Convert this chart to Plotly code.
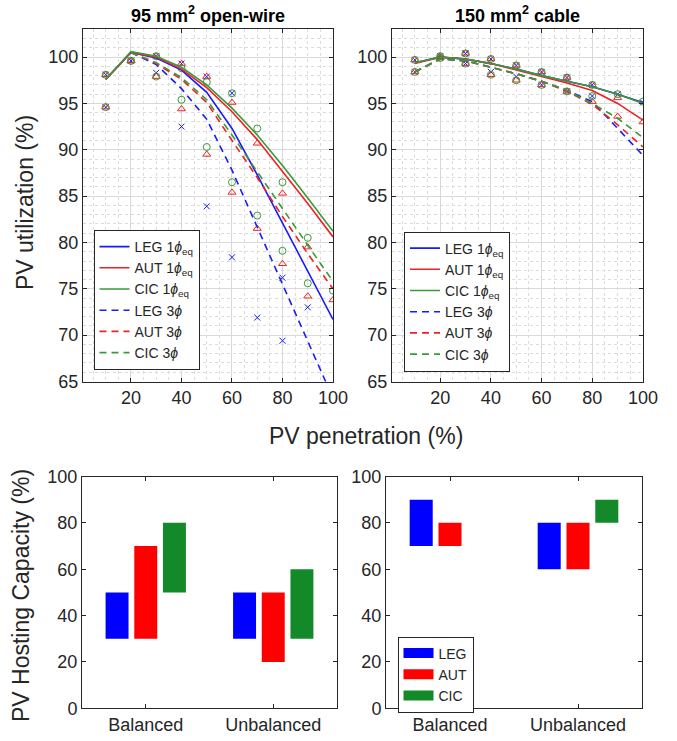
import plotly.graph_objects as go

# ---------------- data ----------------
pen = [10, 20, 30, 40, 50, 60, 70, 80, 90, 100]

# 95 mm2 open-wire : fitted curves (PV utilization %)
ow_leg_1 = [97.6, 100.5, 99.9, 98.6, 96.2, 92.3, 87.3, 82.1, 76.8, 71.7]
ow_aut_1 = [97.6, 100.5, 100.0, 98.7, 96.7, 94.1, 91.1, 87.7, 84.2, 80.6]
ow_cic_1 = [97.6, 100.6, 100.1, 98.9, 97.0, 94.5, 91.6, 88.3, 84.8, 81.2]
ow_leg_3 = [None, 100.5, 99.2, 96.6, 93.3, 87.8, 81.7, 75.6, 69.4, 63.2]
ow_aut_3 = [None, 100.5, 99.3, 97.6, 95.1, 91.0, 87.0, 82.8, 78.8, 75.0]
ow_cic_3 = [None, 100.5, 99.4, 97.8, 95.4, 91.6, 87.6, 83.6, 79.7, 75.8]
# 95 mm2 open-wire : simulated points
ow_leg_m1 = [98.1, 99.6, 100.1, 99.3, 97.9, 96.1, None, 76.2, 73.0, None]
ow_aut_m1 = [98.1, 99.6, 100.1, 99.3, 97.9, 95.1, 90.7, 85.3, 79.5, 73.8]
ow_cic_m1 = [98.1, 99.6, 100.1, 98.8, 97.3, 96.1, 92.3, 86.5, 80.5, 74.8]
ow_leg_m3 = [94.6, 99.6, 98.3, 92.5, 83.9, 78.4, 71.9, 69.4, None, None]
ow_aut_m3 = [94.6, 99.6, 97.9, 94.4, 89.5, 85.4, 81.5, 77.7, 74.2, None]
ow_cic_m3 = [94.6, 99.6, 97.9, 95.4, 90.3, 86.5, 82.9, 79.1, 75.6, None]

# 150 mm2 cable : fitted curves
cb_leg_1 = [99.4, 100.0, 99.8, 99.3, 98.7, 98.0, 97.4, 96.8, 96.0, 95.1]
cb_aut_1 = [99.3, 100.0, 99.8, 99.3, 98.6, 97.9, 97.2, 96.4, 95.0, 93.2]
cb_cic_1 = [99.4, 100.0, 99.8, 99.3, 98.7, 98.0, 97.4, 96.8, 96.0, 95.0]
cb_leg_3 = [98.4, 99.8, 99.6, 98.9, 98.2, 97.4, 96.4, 95.2, 92.3, 89.4]
cb_aut_3 = [98.4, 99.8, 99.6, 98.9, 98.2, 97.4, 96.3, 94.9, 92.7, 90.3]
cb_cic_3 = [98.4, 99.8, 99.6, 98.9, 98.2, 97.4, 96.4, 95.0, 93.4, 91.3]
# 150 mm2 cable : simulated points
cb_leg_m1 = [99.7, 100.1, 100.4, 99.8, 99.1, 98.4, 97.8, 97.0, 96.0, 95.1]
cb_aut_m1 = [99.7, 100.1, 100.4, 99.8, 99.1, 98.4, 97.8, 97.0, 95.6, 93.0]
cb_cic_m1 = [99.7, 100.1, 100.4, 99.8, 99.1, 98.4, 97.8, 97.0, 96.0, 95.2]
cb_leg_m3 = [98.4, 99.9, 99.3, 98.4, 97.9, 97.0, 96.3, 95.8, None, None]
cb_aut_m3 = [98.4, 99.9, 99.3, 98.1, 97.5, 97.0, 96.3, 95.2, 93.6, None]
cb_cic_m3 = [98.4, 99.9, 99.3, 98.1, 97.5, 97.0, 96.3, 95.8, None, None]

# PV hosting capacity ranges (%)
hc_cats = ["Balanced", "Unbalanced"]
ow_leg_hc_lo = [30, 30]; ow_leg_hc_hi = [50, 50]
ow_aut_hc_lo = [30, 20]; ow_aut_hc_hi = [70, 50]
ow_cic_hc_lo = [50, 30]; ow_cic_hc_hi = [80, 60]
cb_leg_hc_lo = [70, 60]; cb_leg_hc_hi = [90, 80]
cb_aut_hc_lo = [70, 60]; cb_aut_hc_hi = [80, 80]
cb_cic_hc_lo = [None, 80]; cb_cic_hc_hi = [None, 90]

x_ticks = [20, 40, 60, 80, 100]
y_ticks = [65, 70, 75, 80, 85, 90, 95, 100]
hc_ticks = [0, 20, 40, 60, 80, 100]

# ---------------- style ----------------
FONT = "Liberation Sans, Arial, sans-serif"
AX = "#262626"
BLUE, RED, GREEN = "#1a1aff", "#ee2222", "#3a9a3a"
BAR_B, BAR_R, BAR_G = "#0000ff", "#ff0000", "#13892a"
W, H = 677, 741

def fx(px):
    return px / W

def fy(py):
    return 1 - py / H

fig = go.Figure()

names = ["LEG", "AUT", "CIC"]
cols = [BLUE, RED, GREEN]
syms = ["x-thin-open", "triangle-up-open", "circle-open"]
msz = [6, 7, 7]
PHI = "<i>ϕ</i>"


def add_panel(xa, ya, lines1, lines3, m1, m3, legend):
    for i in range(3):
        for m in (m1[i], m3[i]):
            fig.add_trace(go.Scatter(
                x=pen, y=m, mode="markers", xaxis=xa, yaxis=ya,
                marker=dict(symbol=syms[i], size=msz[i], color=cols[i],
                            line=dict(color=cols[i], width=1)),
                showlegend=False, hoverinfo="skip"))
    for i in range(3):
        fig.add_trace(go.Scatter(
            x=pen, y=lines1[i], mode="lines", xaxis=xa, yaxis=ya,
            line=dict(color=cols[i], width=1.6),
            name=f"{names[i]} 1{PHI}<sub>eq</sub>", legend=legend))
    for i in range(3):
        fig.add_trace(go.Scatter(
            x=pen, y=lines3[i], mode="lines", xaxis=xa, yaxis=ya,
            line=dict(color=cols[i], width=1.6, dash="7px,5px"),
            name=f"{names[i]} 3{PHI}", legend=legend))


add_panel("x", "y", [ow_leg_1, ow_aut_1, ow_cic_1], [ow_leg_3, ow_aut_3, ow_cic_3],
          [ow_leg_m1, ow_aut_m1, ow_cic_m1], [ow_leg_m3, ow_aut_m3, ow_cic_m3], "legend")
add_panel("x2", "y2", [cb_leg_1, cb_aut_1, cb_cic_1], [cb_leg_3, cb_aut_3, cb_cic_3],
          [cb_leg_m1, cb_aut_m1, cb_cic_m1], [cb_leg_m3, cb_aut_m3, cb_cic_m3], "legend2")

# floating bars
bar_w = 0.18
offs = [-0.225, 0.0, 0.225]
bcols = [BAR_B, BAR_R, BAR_G]
ow_lo = [ow_leg_hc_lo, ow_aut_hc_lo, ow_cic_hc_lo]
ow_hi = [ow_leg_hc_hi, ow_aut_hc_hi, ow_cic_hc_hi]
cb_lo = [cb_leg_hc_lo, cb_aut_hc_lo, cb_cic_hc_lo]
cb_hi = [cb_leg_hc_hi, cb_aut_hc_hi, cb_cic_hc_hi]
for xa, ya, los, his in (("x3", "y3", ow_lo, ow_hi), ("x4", "y4", cb_lo, cb_hi)):
    for i in range(3):
        lo, hi = los[i], his[i]
        hgt = [None if (a is None or b is None) else b - a for a, b in zip(lo, hi)]
        fig.add_trace(go.Bar(
            x=[1, 2], y=hgt, base=lo, xaxis=xa, yaxis=ya,
            width=bar_w, offset=offs[i] - bar_w / 2,
            marker=dict(color=bcols[i], line=dict(width=0)),
            showlegend=False, hoverinfo="skip"))
for i in range(3):
    fig.add_trace(go.Scatter(
        x=[None], y=[None], mode="lines", xaxis="x4", yaxis="y4",
        line=dict(color=bcols[i], width=15), name=names[i], legend="legend3"))

# ---------------- axes ----------------
tick_font = dict(family=FONT, size=18, color=AX)
common = dict(showline=True, linecolor=AX, linewidth=1, mirror="ticks",
              ticks="inside", ticklen=4, tickcolor=AX, tickfont=tick_font,
              zeroline=False, automargin=False)

top_x = dict(common, range=[1, 100], tickvals=x_ticks, showgrid=True,
             gridcolor="#d9d9d9", gridwidth=1,
             minor=dict(dtick=5, tick0=0, showgrid=True, gridcolor="#dcdcdc",
                        griddash="dot", ticks=""))
top_y = dict(common, range=[65, 103], tickvals=y_ticks, showgrid=True,
             gridcolor="#d9d9d9", gridwidth=1,
             minor=dict(dtick=1, tick0=0, showgrid=True, gridcolor="#dcdcdc",
                        griddash="dot", ticks=""))
bot_x = dict(common, range=[0.5, 2.5], tickvals=[1, 2], ticktext=hc_cats,
             showgrid=False)
bot_y = dict(common, range=[0, 100], tickvals=hc_ticks, showgrid=False)

TL = (83, 333); TR = (392, 643); TY = (29.3, 381.5)
BL = (82, 337); BR = (386, 642); BY = (476.5, 708.3)

fig.update_layout(
    width=W, height=H, margin=dict(l=0, r=0, t=0, b=0, autoexpand=False),
    paper_bgcolor="white", plot_bgcolor="white",
    font=dict(family=FONT, color=AX),
    barmode="overlay",
    xaxis=dict(top_x, domain=[fx(TL[0]), fx(TL[1])], anchor="y"),
    yaxis=dict(top_y, domain=[fy(TY[1]), fy(TY[0])], anchor="x"),
    xaxis2=dict(top_x, domain=[fx(TR[0]), fx(TR[1])], anchor="y2"),
    yaxis2=dict(top_y, domain=[fy(TY[1]), fy(TY[0])], anchor="x2"),
    xaxis3=dict(bot_x, domain=[fx(BL[0]), fx(BL[1])], anchor="y3"),
    yaxis3=dict(bot_y, domain=[fy(BY[1]), fy(BY[0])], anchor="x3"),
    xaxis4=dict(bot_x, domain=[fx(BR[0]), fx(BR[1])], anchor="y4"),
    yaxis4=dict(bot_y, domain=[fy(BY[1]), fy(BY[0])], anchor="x4"),
    showlegend=True,
)

leg_common = dict(bgcolor="white", bordercolor="#262626", borderwidth=1,
                  font=dict(family=FONT, size=14, color=AX),
                  xanchor="left", yanchor="top", tracegroupgap=0,
                  itemclick=False, itemdoubleclick=False)
fig.update_layout(
    legend=dict(leg_common, x=fx(93.5), y=fy(230)),
    legend2=dict(leg_common, x=fx(404), y=fy(231.5)),
    legend3=dict(leg_common, x=fx(397.5), y=fy(636.5),
                 font=dict(family=FONT, size=14, color=AX)),
)

ann_base = dict(xref="paper", yref="paper", showarrow=False,
                xanchor="center", yanchor="middle")
ann = [
    dict(ann_base, text="<b>95 mm<sup>2</sup> open-wire</b>", x=fx((TL[0] + TL[1]) / 2), y=fy(15),
         font=dict(size=18, color="black")),
    dict(ann_base, text="<b>150 mm<sup>2</sup> cable</b>", x=fx((TR[0] + TR[1]) / 2), y=fy(15),
         font=dict(size=18, color="black")),
    dict(ann_base, text="PV penetration (%)", x=fx(366), y=fy(436),
         font=dict(size=23, color=AX)),
    dict(ann_base, text="PV utilization (%)", x=fx(25), y=fy(203), textangle=-90,
         font=dict(size=23, color=AX)),
    dict(ann_base, text="PV Hosting Capacity (%)", x=fx(21), y=fy(596), textangle=-90,
         font=dict(size=23, color=AX)),
]
fig.update_layout(annotations=ann)

fig.write_html("out.html", config={"displayModeBar": False},
               post_script="document.body.style.margin='0';document.body.style.overflow='hidden';")
